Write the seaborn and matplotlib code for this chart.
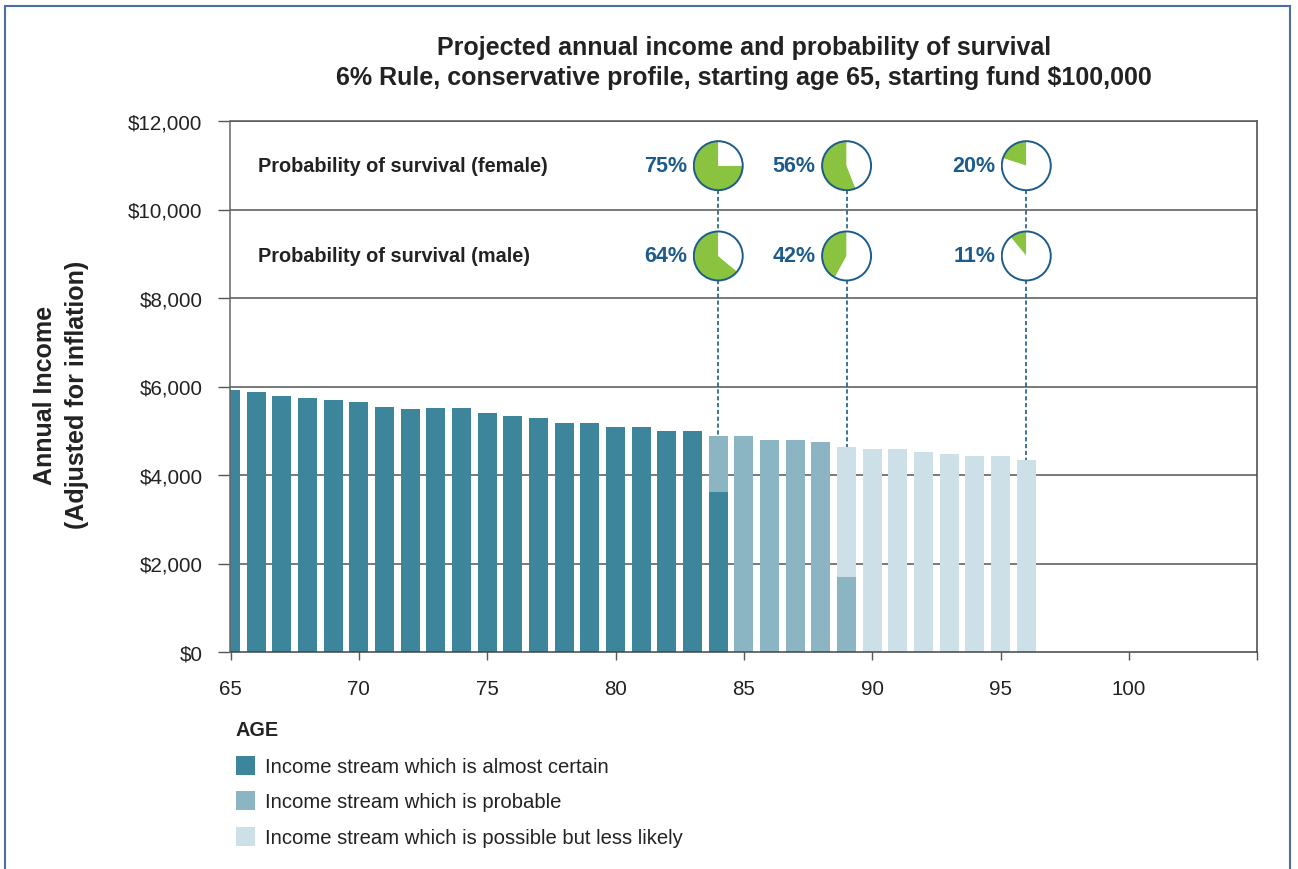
import matplotlib
matplotlib.use("Agg")
import matplotlib.pyplot as plt
from matplotlib.patches import Rectangle, Circle
import numpy as np
import pandas as pd
import seaborn as sns

# ---- data -------------------------------------------------------------
ages = list(range(65, 97))
income = [5920, 5880, 5790, 5740, 5700, 5650, 5540, 5490, 5510, 5510,
          5400, 5330, 5290, 5180, 5180, 5090, 5090, 5000, 5000, 4880,
          4880, 4790, 4790, 4750, 4630, 4590, 4590, 4520, 4470, 4430,
          4430, 4340]

# age at which the "probable" stream starts and the certain share of that year
probable_start_age = 84
certain_part_at_split = 3620
# age at which the "possible" stream starts and the probable share of that year
possible_start_age = 89
probable_part_at_split = 1700

survival_ages = [84, 89, 96]
female_survival = [75, 56, 20]
male_survival = [64, 42, 11]

y_ticks = [0, 2000, 4000, 6000, 8000, 10000, 12000]
y_tick_labels = ["$0", "$2,000", "$4,000", "$6,000", "$8,000", "$10,000", "$12,000"]
x_ticks = [65, 70, 75, 80, 85, 90, 95, 100]

title_lines = ["Projected annual income and probability of survival",
               "6% Rule, conservative profile, starting age 65, starting fund $100,000"]
legend_labels = ["Income stream which is almost certain",
                 "Income stream which is probable",
                 "Income stream which is possible but less likely"]

# ---- styling ----------------------------------------------------------
sns.set_style("white")
plt.rcParams["font.family"] = ["Liberation Sans", "DejaVu Sans"]

C_CERTAIN = "#3d859b"
C_PROBABLE = "#8bb5c3"
C_POSSIBLE = "#cde0e7"
C_GREEN = "#89c340"
C_BLUE = "#1d5c8a"
C_GRID = "#555555"
C_TEXT = "#222222"

W, H = 1298, 870
fig = plt.figure(figsize=(W / 100, H / 100), dpi=100)

ax_l, ax_r, ax_t, ax_b = 230.5, 1257.3, 122, 653
ax = fig.add_axes([ax_l / W, 1 - ax_b / H, (ax_r - ax_l) / W, (ax_b - ax_t) / H])

# ---- bar segments (drawn back to front) ------------------------------
inc = dict(zip(ages, income))
certain = pd.DataFrame({"age": [a for a in ages if a < probable_start_age] + [probable_start_age]})
certain["top"] = [inc[a] for a in ages if a < probable_start_age] + [certain_part_at_split]
probable = pd.DataFrame({"age": [a for a in ages if probable_start_age <= a < possible_start_age] + [possible_start_age]})
probable["top"] = [inc[a] for a in ages if probable_start_age <= a < possible_start_age] + [probable_part_at_split]
possible = pd.DataFrame({"age": [a for a in ages if a >= possible_start_age]})
possible["top"] = [inc[a] for a in ages if a >= possible_start_age]

for seg, col in [(possible, C_POSSIBLE), (probable, C_PROBABLE), (certain, C_CERTAIN)]:
    sns.barplot(data=seg, x="age", y="top", native_scale=True, width=0.74,
                color=col, saturation=1, errorbar=None, linewidth=0, ax=ax, zorder=2)

ax.set_xlim(65, 105)
ax.set_ylim(0, 12000)
ax.set_xlabel("")
ax.set_ylabel("")

ax.set_yticks(y_ticks)
ax.set_yticklabels(y_tick_labels)
ax.set_xticks(x_ticks + [105])
ax.set_xticklabels([str(t) for t in x_ticks] + [""])
ax.tick_params(axis="y", direction="out", length=8.6, width=1, color="#555555",
               pad=11.5, labelsize=14.8, labelcolor=C_TEXT, left=True)
ax.tick_params(axis="x", direction="out", length=6, width=1, color="#555555",
               pad=13.5, labelsize=14.8, labelcolor=C_TEXT, bottom=True)

for y in y_ticks[1:]:
    ax.axhline(y, color=C_GRID, lw=1.1, zorder=1)
for side in ["top", "right", "left", "bottom"]:
    ax.spines[side].set_visible(True)
    ax.spines[side].set_color("#444444")
    ax.spines[side].set_linewidth(1.1)
ax.spines["left"].set_color("#666666")
ax.spines["top"].set_color(C_GRID)

# ---- survival pies ----------------------------------------------------
px_per_year = (ax_r - ax_l) / 40
px_per_dollar = (ax_b - ax_t) / 12000
r_px = 24.5
box_px = 2.1 * r_px
bw = box_px / px_per_year
bh = box_px / px_per_dollar
r_dollar = r_px / px_per_dollar
female_y, male_y = 10990, 8950

ax.text(66.07, female_y, "Probability of survival (female)", fontsize=14.3,
        fontweight="bold", color=C_TEXT, va="center", ha="left")
ax.text(66.07, male_y, "Probability of survival (male)", fontsize=14.3,
        fontweight="bold", color=C_TEXT, va="center", ha="left")

label_dx = (r_px + 6.5) / px_per_year
for age, pf, pm in zip(survival_ages, female_survival, male_survival):
    for yc, p in [(female_y, pf), (male_y, pm)]:
        ia = ax.inset_axes([age - bw / 2, yc - bh / 2, bw, bh], transform=ax.transData)
        ia.pie([p, 100 - p], colors=[C_GREEN, "white"], startangle=90,
               counterclock=True, wedgeprops=dict(linewidth=0))
        ia.add_patch(Circle((0, 0), 1, fill=False, ec=C_BLUE, lw=1.4))
        ia.set_xlim(-1.05, 1.05)
        ia.set_ylim(-1.05, 1.05)
        ia.set_aspect("equal")
        ia.axis("off")
        ax.text(age - label_dx, yc, f"{p}%", fontsize=15.5, fontweight="bold",
                color=C_BLUE, ha="right", va="center")
    ax.plot([age, age], [female_y - r_dollar, male_y + r_dollar], color=C_BLUE,
            lw=1.2, linestyle=(0, (2.5, 1.6)), zorder=3)
    ax.plot([age, age], [male_y - r_dollar, inc[age]], color=C_BLUE,
            lw=1.2, linestyle=(0, (2.5, 1.6)), zorder=3)

# ---- titles -----------------------------------------------------------
cx = (ax_l + ax_r) / 2 / W
fig.text(cx, 1 - 48 / H, title_lines[0], ha="center", va="center",
         fontsize=18, fontweight="bold", color=C_TEXT)
fig.text(cx, 1 - 78 / H, title_lines[1], ha="center", va="center",
         fontsize=18, fontweight="bold", color=C_TEXT)

fig.text(61 / W, 1 - 395 / H, "Annual Income\n(Adjusted for inflation)",
         rotation=90, ha="center", va="center", fontsize=18,
         fontweight="bold", color=C_TEXT, linespacing=1.4)

# ---- legend -----------------------------------------------------------
fig.text(236 / W, 1 - 731 / H, "AGE", ha="left", va="center",
         fontsize=14.3, fontweight="bold", color=C_TEXT)
for i, (lab, col) in enumerate(zip(legend_labels, [C_CERTAIN, C_PROBABLE, C_POSSIBLE])):
    yc = 766 + 35.5 * i
    fig.patches.append(Rectangle((236 / W, 1 - (yc + 9.5) / H), 19 / W, 19 / H,
                                 transform=fig.transFigure, facecolor=col,
                                 edgecolor="none", figure=fig))
    fig.text(265 / W, 1 - (yc + 1.5) / H, lab, ha="left", va="center",
             fontsize=14.6, color=C_TEXT)

# ---- outer frame ------------------------------------------------------
fig.patches.append(Rectangle((4.5 / W, -0.05), (1290 - 4.5) / W, 1.05 - 7 / H,
                             transform=fig.transFigure, fill=False,
                             edgecolor="#4a6fa5", lw=1.5, figure=fig))

fig.savefig("out.png", dpi=100)
